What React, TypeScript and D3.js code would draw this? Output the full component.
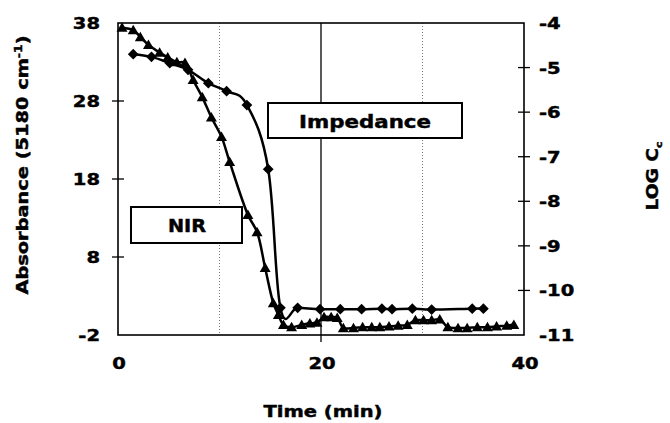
import React from "react";
import * as d3 from "d3";

// Impedance (LOG Cc, right axis) — diamonds
const impTime = [1.5, 3.3, 5.1, 6.9, 8.9, 10.7, 12.7, 14.8, 16.0, 17.7, 19.9, 21.9, 24.0, 26.0, 27.0, 29.0, 30.9, 34.9, 36.0];
const impLog = [-4.7, -4.76, -4.9, -5.05, -5.35, -5.53, -5.84, -7.28, -10.39, -10.39, -10.42, -10.42, -10.42, -10.41, -10.42, -10.41, -10.43, -10.41, -10.41];

// NIR absorbance (left axis) — triangles
const nirTime = [0.4, 1.5, 2.2, 3.0, 4.1, 4.9, 5.8, 6.6, 7.4, 8.3, 9.2, 10.2, 11.0, 12.8, 13.7, 14.5, 15.3, 15.8, 16.3, 17.1, 18.1, 18.9, 19.6, 20.3, 21.0, 21.6, 22.2, 23.2, 24.1, 25.0, 25.8, 26.7, 27.6, 28.5, 29.3, 30.1, 30.9, 31.7, 32.5, 33.5, 34.4, 35.4, 36.4, 37.3, 38.3, 39.0];
const nirAbs = [37.4, 37.1, 36.2, 35.2, 34.2, 33.6, 33.0, 32.9, 30.7, 28.5, 25.9, 23.4, 20.2, 13.4, 11.2, 6.6, 2.1, 0.6, -0.7, -1.0, -0.7, -0.5, -0.4, 0.3, 0.3, 0.2, -1.1, -1.1, -1.0, -1.0, -1.0, -0.9, -0.8, -0.7, -0.1, -0.1, -0.1, 0.0, -1.0, -1.1, -1.1, -1.0, -1.0, -0.9, -0.8, -0.7];

const xTicks = [0, 20, 40];
const leftTicks = [38, 28, 18, 8, -2];
const rightTicks = [-4, -5, -6, -7, -8, -9, -10, -11];
const dottedGrid = [10, 30];
const solidGrid = [20];

const W = 670, H = 423;
const L = 118, R = 524, T = 23, B = 335;
const FONT = "'DejaVu Sans', 'Liberation Sans', Arial, sans-serif";
const SX = 1.22;

const x = d3.scaleLinear().domain([0, 40]).range([L, R]);
const yL = d3.scaleLinear().domain([-2, 38]).range([B, T]);
const yR = d3.scaleLinear().domain([-11, -4]).range([B, T]);

function SText({ x, y, anchor = "middle", size = 16, sx = SX, rotate = 0, children }: any) {
  return (
    <text
      transform={`translate(${x},${y}) rotate(${rotate}) scale(${sx},1)`}
      textAnchor={anchor}
      fontFamily={FONT}
      fontWeight="bold"
      fontSize={size}
      fill="#000"
      stroke="#000"
      strokeWidth={0.45}
    >
      {children}
    </text>
  );
}

export default function App() {
  const impData = impTime.map((t, i) => [t, impLog[i]] as [number, number]);
  const nirData = nirTime.map((t, i) => [t, nirAbs[i]] as [number, number]);

  const impLine = d3
    .line<[number, number]>()
    .x((d) => x(d[0]))
    .y((d) => yR(d[1]))
    .curve(d3.curveCardinal.tension(-0.1))(impData);
  const nirLine = d3
    .line<[number, number]>()
    .x((d) => x(d[0]))
    .y((d) => yL(d[1]))
    .curve(d3.curveCatmullRom.alpha(0.5))(nirData);

  const tri = d3.symbol().type(d3.symbolTriangle).size(52)() as string;
  const dia = d3.symbol().type(d3.symbolSquare).size(58)() as string;

  return (
    <svg width={W} height={H} style={{ position: "absolute", left: 0, top: 0, background: "#fff" }}>
      <rect x={0} y={0} width={W} height={H} fill="#fff" />
      {/* grid */}
      {dottedGrid.map((g) => (
        <line key={g} x1={x(g)} x2={x(g)} y1={T} y2={B} stroke="#777" strokeWidth={1} strokeDasharray="1,2" />
      ))}
      {solidGrid.map((g) => (
        <line key={g} x1={x(g)} x2={x(g)} y1={T} y2={B + 7} stroke="#000" strokeWidth={1.3} />
      ))}
      {/* frame */}
      <rect x={L} y={T} width={R - L} height={B - T} fill="none" stroke="#000" strokeWidth={1.6} />
      {/* ticks */}
      {leftTicks.slice(1, -1).map((v) => (
        <line key={v} x1={L - 6} x2={L + 6} y1={yL(v)} y2={yL(v)} stroke="#000" strokeWidth={1.3} />
      ))}
      {rightTicks.slice(1, -1).map((v) => (
        <line key={v} x1={R - 6} x2={R + 6} y1={yR(v)} y2={yR(v)} stroke="#000" strokeWidth={1.3} />
      ))}
      {/* tick labels */}
      {leftTicks.map((v) => (
        <SText key={v} x={100} y={yL(v) + 6} anchor="end">
          {String(v)}
        </SText>
      ))}
      {rightTicks.map((v) => (
        <SText key={v} x={539} y={yR(v) + 6} anchor="start">
          {String(v)}
        </SText>
      ))}
      {xTicks.map((v) => (
        <SText key={v} x={x(v) + 1} y={369}>
          {String(v)}
        </SText>
      ))}
      {/* axis titles */}
      <SText x={323} y={417}>Time (min)</SText>
      <SText x={28} y={165} rotate={-90} size={15.5} sx={1.25}>
        Absorbance (5180 cm<tspan dy={-6} fontSize={10}>-1</tspan>
        <tspan dy={6}>)</tspan>
      </SText>
      <SText x={658} y={176} rotate={-90} size={15.5} sx={1.2}>
        LOG C<tspan dy={4} fontSize={9}>c</tspan>
      </SText>
      {/* lines */}
      <path d={nirLine || ""} fill="none" stroke="#000" strokeWidth={2.5} strokeLinejoin="round" />
      <path d={impLine || ""} fill="none" stroke="#000" strokeWidth={2.5} strokeLinejoin="round" />
      {nirData.map((d, i) => (
        <path key={"t" + i} d={tri} transform={`translate(${x(d[0])},${yL(d[1]) + 1})`} fill="#000" />
      ))}
      {impData.map((d, i) => (
        <path key={"d" + i} d={dia} transform={`translate(${x(d[0])},${yR(d[1])}) rotate(45)`} fill="#000" />
      ))}
      {/* legend boxes */}
      <rect x={268} y={103} width={194} height={35} fill="#fff" stroke="#000" strokeWidth={2} />
      <SText x={365} y={128} size={17.5}>Impedance</SText>
      <rect x={131} y={207} width={111} height={36} fill="#fff" stroke="#000" strokeWidth={2} />
      <SText x={187} y={232} size={17.5} sx={1.1}>NIR</SText>
    </svg>
  );
}
